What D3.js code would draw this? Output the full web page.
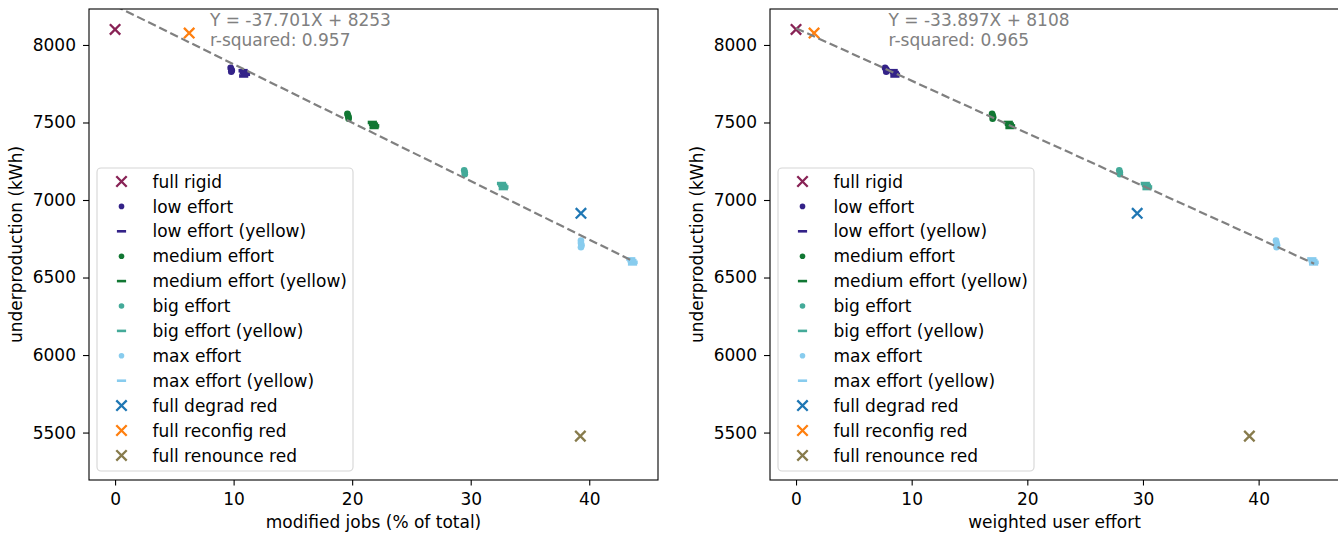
<!DOCTYPE html>
<html>
<head>
<meta charset="utf-8">
<script src="https://cdn.jsdelivr.net/npm/d3@7"></script>
<style>
  html, body { margin: 0; padding: 0; background: #fff; }
  svg { display: block; }
  svg text { font-family: "DejaVu Sans", "Bitstream Vera Sans", Verdana, sans-serif; }
</style>
</head>
<body>
<svg id="chart" width="1338" height="533"></svg>
<script>
// ---------- DATA ----------
const seriesLabels = ["full rigid", "low effort", "low effort (yellow)", "medium effort",
  "medium effort (yellow)", "big effort", "big effort (yellow)", "max effort",
  "max effort (yellow)", "full degrad red", "full reconfig red", "full renounce red"];

// x values: modified jobs (% of total)
const fullRigidJobs = [0];
const lowEffortJobs = [9.75, 9.8, 9.85, 9.8];
const lowYellowJobs = [10.8, 10.9, 11.0, 10.85];
const mediumEffortJobs = [19.6, 19.65, 19.7, 19.7];
const mediumYellowJobs = [21.7, 21.8, 21.9, 21.85];
const bigEffortJobs = [29.45, 29.5, 29.5];
const bigYellowJobs = [32.6, 32.7, 32.8, 32.75];
const maxEffortJobs = [39.3, 39.3, 39.35, 39.3];
const maxYellowJobs = [43.5, 43.6, 43.7, 43.65];
const degradRedJobs = [39.3];
const reconfigRedJobs = [6.25];
const renounceRedJobs = [39.25];

// x values: weighted user effort
const fullRigidWeighted = [0];
const lowEffortWeighted = [7.7, 7.8, 7.85, 7.8];
const lowYellowWeighted = [8.4, 8.5, 8.6, 8.55];
const mediumEffortWeighted = [16.95, 17.0, 17.05, 17.0];
const mediumYellowWeighted = [18.35, 18.45, 18.55, 18.5];
const bigEffortWeighted = [27.95, 28.0, 28.0];
const bigYellowWeighted = [30.2, 30.3, 30.4, 30.35];
const maxEffortWeighted = [41.5, 41.55, 41.6, 41.55];
const maxYellowWeighted = [44.6, 44.7, 44.8, 44.75];
const degradRedWeighted = [29.5];
const reconfigRedWeighted = [1.56];
const renounceRedWeighted = [39.2];

// y values: underproduction (kWh)
const fullRigidUnder = [8100];
const lowEffortUnder = [7852, 7843, 7835, 7828];
const lowYellowUnder = [7834, 7822, 7811, 7800];
const mediumEffortUnder = [7556, 7545, 7534, 7524];
const mediumYellowUnder = [7500, 7489, 7478, 7468];
const bigEffortUnder = [7192, 7179, 7166];
const bigYellowUnder = [7106, 7095, 7084, 7074];
const maxEffortUnder = [6738, 6723, 6708, 6695];
const maxYellowUnder = [6620, 6609, 6598, 6588];
const degradRedUnder = [6914];
const reconfigRedUnder = [8077];
const renounceRedUnder = [5477];

const jobsX = [fullRigidJobs, lowEffortJobs, lowYellowJobs, mediumEffortJobs, mediumYellowJobs,
  bigEffortJobs, bigYellowJobs, maxEffortJobs, maxYellowJobs, degradRedJobs, reconfigRedJobs, renounceRedJobs];
const weightedX = [fullRigidWeighted, lowEffortWeighted, lowYellowWeighted, mediumEffortWeighted, mediumYellowWeighted,
  bigEffortWeighted, bigYellowWeighted, maxEffortWeighted, maxYellowWeighted, degradRedWeighted, reconfigRedWeighted, renounceRedWeighted];
const underY = [fullRigidUnder, lowEffortUnder, lowYellowUnder, mediumEffortUnder, mediumYellowUnder,
  bigEffortUnder, bigYellowUnder, maxEffortUnder, maxYellowUnder, degradRedUnder, reconfigRedUnder, renounceRedUnder];

const fitSlopes = [-37.701, -33.897];
const fitIntercepts = [8253, 8108];
const fitR2 = [0.957, 0.965];
const xTicks = [0, 10, 20, 30, 40];
const yTicks = [5500, 6000, 6500, 7000, 7500, 8000];
const xLabels = ["modified jobs (% of total)", "weighted user effort"];
const yLabel = "underproduction (kWh)";

// ---------- STYLE ----------
const seriesColors = ["#882255", "#332288", "#332288", "#117733", "#117733", "#44AA99", "#44AA99",
  "#88CCEE", "#88CCEE", "#1f77b4", "#ff7f0e", "#877b4c"];
const seriesMarkers = ["x", "dot", "hline", "dot", "hline", "dot", "hline", "dot", "hline", "x", "x", "x"];
const FONT = 17;
const FAMILY = '"DejaVu Sans", "Bitstream Vera Sans", Verdana, sans-serif';

const panels = [
  { left: 89, right: 658, xDomain: [-2.2, 45.8], xs: jobsX },
  { left: 770, right: 1339, xDomain: [-2.25, 46.95], xs: weightedX }
];
const plotTop = 9, plotBottom = 480;
const yDomain = [5194, 8232];

const svg = d3.select("#chart");

function drawMarker(g, type, color, cx, cy, legend) {
  if (type === "x") {
    const s = 5.2;
    g.append("path")
      .attr("d", `M${cx - s},${cy - s}L${cx + s},${cy + s}M${cx - s},${cy + s}L${cx + s},${cy - s}`)
      .attr("stroke", color).attr("stroke-width", 2.3).attr("fill", "none");
  } else if (type === "dot") {
    g.append("circle").attr("cx", cx).attr("cy", cy).attr("r", legend ? 2.8 : 3.3).attr("fill", color);
  } else {
    g.append("line").attr("x1", cx - 4.6).attr("x2", cx + 4.6).attr("y1", cy).attr("y2", cy)
      .attr("stroke", color).attr("stroke-width", legend ? 2.6 : 3.6);
  }
}

function styleText(sel) {
  sel.attr("font-family", FAMILY).attr("font-size", FONT).style("font-family", FAMILY).style("font-size", FONT + "px");
}

panels.forEach((p, pi) => {
  const x = d3.scaleLinear().domain(p.xDomain).range([p.left, p.right]);
  const y = d3.scaleLinear().domain(yDomain).range([plotBottom, plotTop]);
  const g = svg.append("g");

  const clipId = "clip" + pi;
  svg.append("clipPath").attr("id", clipId).append("rect")
    .attr("x", p.left).attr("y", plotTop).attr("width", p.right - p.left).attr("height", plotBottom - plotTop);

  // points
  const pts = g.append("g").attr("clip-path", `url(#${clipId})`);
  seriesLabels.forEach((lab, si) => {
    p.xs[si].forEach((xv, k) => {
      drawMarker(pts, seriesMarkers[si], seriesColors[si], x(xv), y(underY[si][k]), false);
    });
  });

  // regression line
  const allX = p.xs.flat();
  const ext = d3.extent(allX);
  const lineData = ext.map(v => [v, fitSlopes[pi] * v + fitIntercepts[pi]]);
  g.append("path").attr("clip-path", `url(#${clipId})`)
    .attr("d", d3.line().x(d => x(d[0])).y(d => y(d[1]))(lineData))
    .attr("stroke", "#808080").attr("stroke-width", 2.2).attr("stroke-dasharray", "8.5,3.8")
    .attr("fill", "none");

  // annotation
  const ann = g.append("text").attr("fill", "#808080").call(styleText);
  ann.append("tspan").attr("x", x(8)).attr("y", 26)
    .text(`Y = ${fitSlopes[pi].toFixed(3)}X + ${fitIntercepts[pi]}`);
  ann.append("tspan").attr("x", x(8)).attr("y", 46).text(`r-squared: ${fitR2[pi].toFixed(3)}`);

  // axes
  const xAxis = d3.axisBottom(x).tickValues(xTicks).tickSize(5.5).tickPadding(7.5).tickFormat(d3.format("d"));
  const gx = g.append("g").attr("transform", `translate(0,${plotBottom})`).call(xAxis);
  gx.attr("font-family", FAMILY).attr("font-size", FONT);
  gx.select(".domain").remove();
  gx.selectAll("text").call(styleText).attr("fill", "#000");
  gx.selectAll("line").attr("stroke", "#000").attr("stroke-width", 1.1);

  const yAxis = d3.axisLeft(y).tickValues(yTicks).tickSize(6).tickPadding(7).tickFormat(d3.format("d"));
  const gy = g.append("g").attr("transform", `translate(${p.left},0)`).call(yAxis);
  gy.attr("font-family", FAMILY).attr("font-size", FONT);
  gy.select(".domain").remove();
  gy.selectAll("text").call(styleText).attr("fill", "#000");
  gy.selectAll("line").attr("stroke", "#000").attr("stroke-width", 1.1);

  // frame
  g.append("rect").attr("x", p.left).attr("y", plotTop).attr("width", p.right - p.left).attr("height", plotBottom - plotTop)
    .attr("fill", "none").attr("stroke", "#000").attr("stroke-width", 1.1);

  // axis labels
  g.append("text").attr("x", (p.left + p.right) / 2).attr("y", 527.5).attr("text-anchor", "middle")
    .call(styleText).text(xLabels[pi]);
  g.append("text").attr("transform", `translate(${p.left - 67},${(plotTop + plotBottom) / 2}) rotate(-90)`)
    .attr("text-anchor", "middle").call(styleText).text(yLabel);

  // legend
  const lx = p.left + 8, ly = 168;
  const lg = g.append("g");
  lg.append("rect").attr("x", lx).attr("y", ly).attr("width", 256).attr("height", 303).attr("rx", 4)
    .attr("fill", "#fff").attr("fill-opacity", 0.8).attr("stroke", "#d5d5d5").attr("stroke-width", 1.1);
  seriesLabels.forEach((lab, si) => {
    const ry = ly + 13.5 + si * 24.9;
    drawMarker(lg, seriesMarkers[si], seriesColors[si], lx + 24.5, ry, true);
    lg.append("text").attr("x", lx + 55.5).attr("y", ry).attr("dy", "0.36em")
      .call(styleText).text(lab);
  });
});
</script>
</body>
</html>
